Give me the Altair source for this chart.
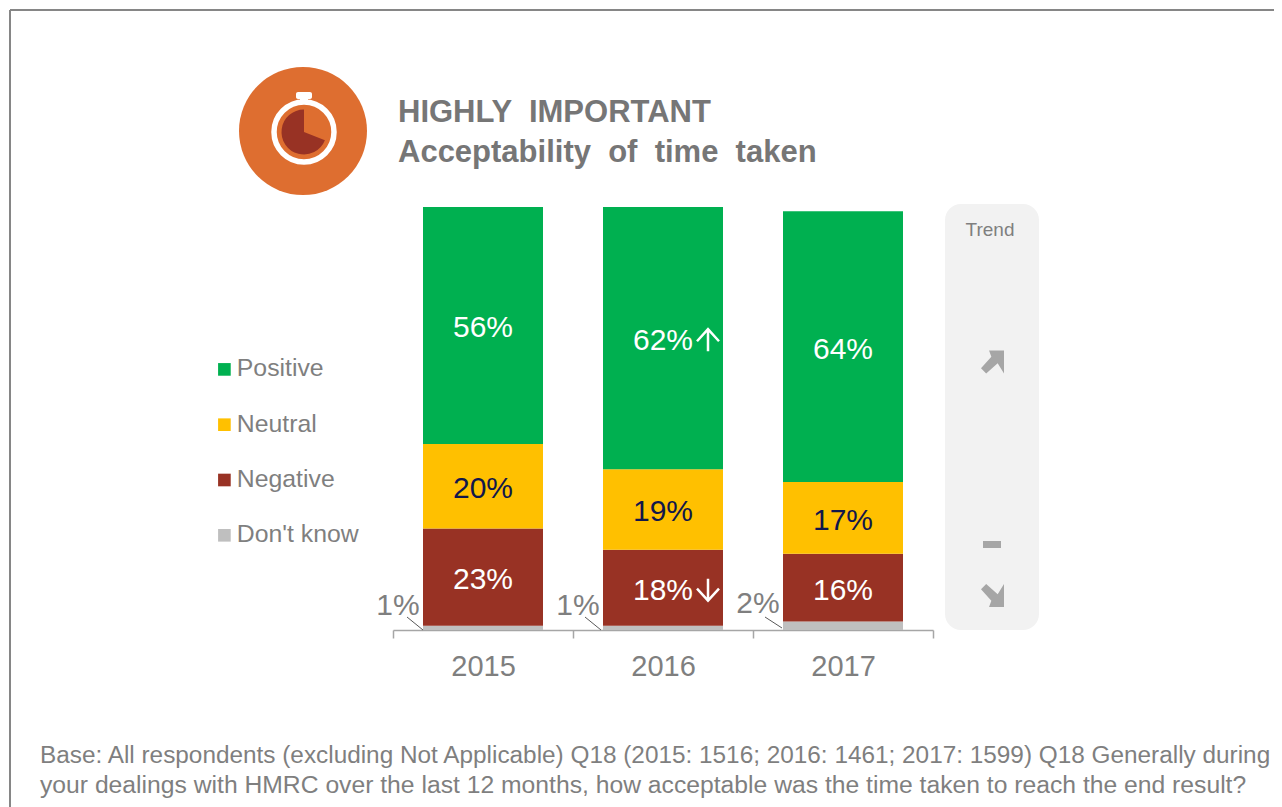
import altair as alt
import pandas as pd

years = ["2015", "2016", "2017"]
categories = ["Positive", "Neutral", "Negative", "Don't know"]
colors = ["#00B050", "#FFC000", "#983224", "#BFBFBF"]
positive = [56, 62, 64]
neutral = [20, 19, 17]
negative = [23, 18, 16]
dont_know = [1, 1, 2]
arrows = {"2016": {"Positive": "up", "Negative": "down"}}
title_lines = ["HIGHLY \u00a0IMPORTANT", "Acceptability \u00a0of \u00a0time \u00a0taken"]
footer_lines = [
    "Base: All respondents (excluding Not Applicable) Q18 (2015: 1516; 2016: 1461; 2017: 1599) Q18 Generally during",
    "your dealings with HMRC over the last 12 months, how acceptable was the time taken to reach the end result?",
]

FONT = "Liberation Sans"
GREY = "#7F7F7F"
W, H = 1266, 799
series = {"Don't know": dont_know, "Negative": negative, "Neutral": neutral, "Positive": positive}

rows = []
for i, y in enumerate(years):
    base = 0
    for rank, (cat, vals) in enumerate(series.items()):
        v_ = vals[i]
        rows.append({"year": y, "cat": cat, "value": v_, "rank": rank, "mid": base + v_ / 2,
                     "label": f"{v_}%", "arrow": arrows.get(y, {}).get(cat, "")})
        base += v_
df = pd.DataFrame(rows)

x_scale = alt.Scale(domain=years, range=[385, 925], paddingInner=0, paddingOuter=0)
y_scale = alt.Scale(domain=[0, 100], range=[622, 199], nice=False)
X = alt.X("year:N", scale=x_scale, title=None,
          axis=alt.Axis(tickBand="extent", tickExtra=True, offset=-177, labelAngle=0, labelFont=FONT,
                        labelFontSize=29, labelColor=GREY, labelPadding=14, tickSize=8, tickColor="#A6A6A6",
                        domainColor="#A6A6A6", tickWidth=1.5, domainWidth=1.5, grid=False))
Y = alt.Y("value:Q", scale=y_scale, axis=None, stack="zero")
YM = alt.Y("mid:Q", scale=y_scale, axis=None)

one = alt.Data(values=[{"a": 1}])


def v(**kw):
    return {k: alt.value(val) for k, val in kw.items()}


def txt(text, x, y, size, color=GREY, bold=False, align="left"):
    return alt.Chart(one).mark_text(text=text, font=FONT, fontSize=size, color=color, align=align,
                                    baseline="middle", fontWeight="bold" if bold else "normal").encode(**v(x=x, y=y))


def rule(x, y, x2, y2, color, width):
    return alt.Chart(one).mark_rule(color=color, strokeWidth=width).encode(**v(x=x, y=y, x2=x2, y2=y2))


def box(x, y, x2, y2, color, radius=0):
    return alt.Chart(one).mark_rect(color=color, cornerRadius=radius).encode(**v(x=x, y=y, x2=x2, y2=y2))


ARROW_UP = "M-0.3 -1 L1 -1 L1 1 L0.45 0.1 L-0.55 1 L-1 0.55 L-0.1 -0.45 Z"
ARROW_DOWN = "M-0.3 1 L1 1 L1 -1 L0.45 -0.1 L-0.55 -1 L-1 -0.55 L-0.1 0.45 Z"
THIN_UP = "M0 1 L0 -1 M-1 0.1 L0 -1 L1 0.1"
THIN_DOWN = "M0 -1 L0 1 M-1 -0.1 L0 1 L1 -0.1"

decor = [
    rule(2, 2, W, 2, "#868686", 2),
    rule(2, 2, 2, H, "#868686", 2),
    # clock badge
    alt.Chart(one).mark_circle(color="#DE6E30", opacity=1, size=16384).encode(**v(x=295, y=123)),
    alt.Chart(one).mark_circle(filled=False, stroke="white", strokeWidth=5.5, opacity=1, size=3600).encode(**v(x=296, y=124)),
    alt.Chart(one).mark_arc(color="#983224", radius=22.5, theta=1.95, theta2=6.2832).encode(**v(x=296, y=124)),
    box(288, 84, 304, 91, "white", 2),
    box(292, 90, 300, 96, "white"),
    txt(title_lines[0], 390, 105, 31, "#767676", True),
    txt(title_lines[1], 390, 145, 31, "#767676", True),
    # trend panel
    box(937, 196, 1031, 622, "#F2F2F2", 16),
    txt("Trend", 982, 222, 19, "#7F7F7F", align="center"),
    alt.Chart(one).mark_point(shape=ARROW_UP, filled=True, color="#A6A6A6", opacity=1, size=529).encode(**v(x=984.5, y=354)),
    box(975, 533, 993, 540, "#A6A6A6"),
    alt.Chart(one).mark_point(shape=ARROW_DOWN, filled=True, color="#A6A6A6", opacity=1, size=529).encode(**v(x=984.5, y=587.5)),
    txt(footer_lines[0], 32, 748, 24.35),
    txt(footer_lines[1], 32, 778, 24.7),
    # leader lines of the smallest slices
    rule(399, 609, 415, 622, "#595959", 1),
    rule(577, 609, 593, 622, "#595959", 1),
    rule(757, 609, 774, 620, "#595959", 1),
]

bars = alt.Chart(df).mark_bar(size=120).encode(
    x=X, y=Y,
    color=alt.Color("cat:N", scale=alt.Scale(domain=categories, range=colors),
                    legend=alt.Legend(orient="none", legendX=204, legendY=349, title=None, symbolType="square",
                                      symbolSize=160, symbolStrokeWidth=0, symbolOpacity=1, labelFont=FONT, labelFontSize=24.8,
                                      labelColor=GREY, rowPadding=29.3, labelOffset=0, padding=0)),
    order=alt.Order("rank:Q", sort="ascending"),
)

big = df[df["cat"] != "Don't know"]
labels = alt.Chart(big).mark_text(font=FONT, fontSize=30, dy=3).encode(
    x=X, y=YM, text="label:N",
    color=alt.Color("cat:N", scale=alt.Scale(domain=["Positive", "Neutral", "Negative"], range=["#FFFFFF", "#11174B", "#FFFFFF"]), legend=None),
)
up = alt.Chart(df[df["arrow"] == "up"]).mark_point(shape=THIN_UP, filled=False, stroke="white", strokeWidth=2.5, opacity=1, size=484, xOffset=45, yOffset=2).encode(x=X, y=YM)
down = alt.Chart(df[df["arrow"] == "down"]).mark_point(shape=THIN_DOWN, filled=False, stroke="white", strokeWidth=2.5, opacity=1, size=484, xOffset=45, yOffset=2).encode(x=X, y=YM)
small = alt.Chart(df[df["cat"] == "Don't know"]).mark_text(font=FONT, fontSize=30, dx=-85, dy=-22, color=GREY).encode(
    x=X, y=YM, text="label:N")

chart = alt.layer(*decor, bars, labels, up, down, small).resolve_scale(color="independent").properties(
    width=W, height=H, padding=0, background="white",
    autosize=alt.AutoSizeParams(type="none", contains="padding"),
).configure_view(stroke=None)

chart.save("out.html", embed_options={"renderer": "svg", "actions": False})
